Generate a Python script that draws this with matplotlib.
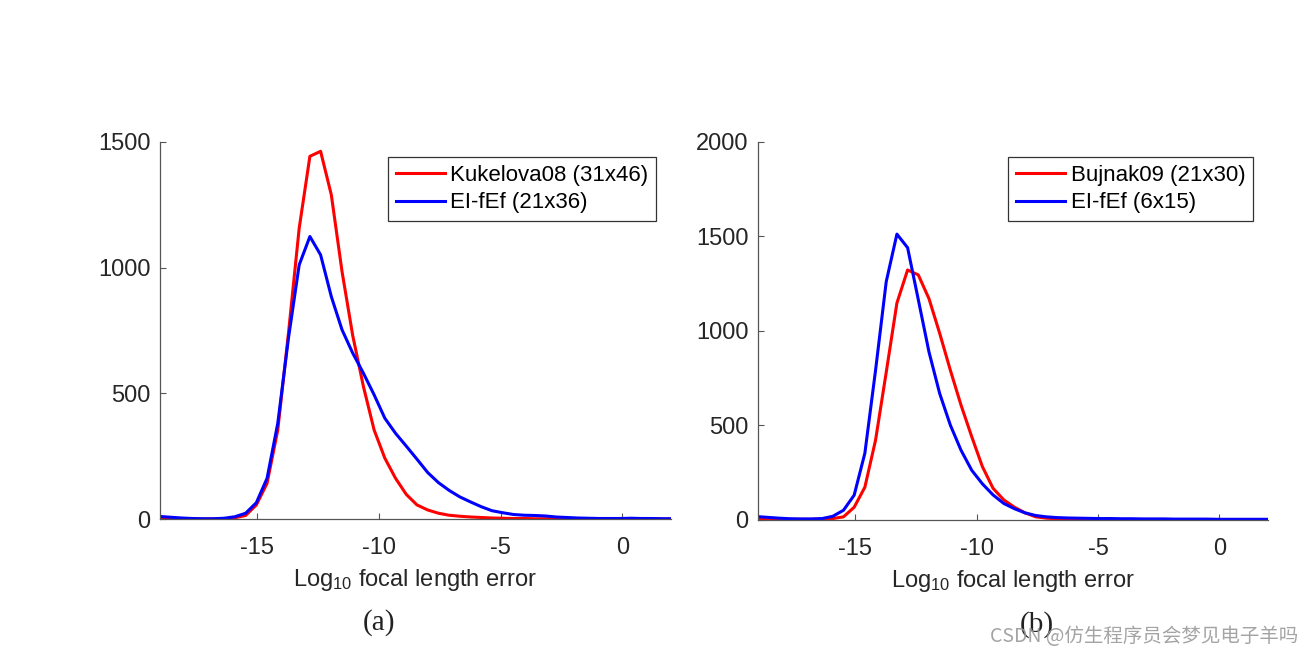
import numpy as np
import matplotlib
matplotlib.use('Agg')
import matplotlib.pyplot as plt

plt.rcParams['font.family'] = ['Liberation Sans', 'DejaVu Sans']
plt.rcParams['mathtext.fontset'] = 'custom'
plt.rcParams['mathtext.rm'] = 'Liberation Sans'
plt.rcParams['mathtext.it'] = 'Liberation Sans'
plt.rcParams['axes.unicode_minus'] = False

# bin centres (log10 focal length error)
log_err = [-19.00, -18.56, -18.12, -17.68, -17.24, -16.80, -16.36, -15.92, -15.48, -15.04,
           -14.60, -14.16, -13.72, -13.28, -12.84, -12.40, -11.96, -11.52, -11.08, -10.64,
           -10.20, -9.76, -9.32, -8.88, -8.44, -8.00, -7.56, -7.12, -6.68, -6.24,
           -5.80, -5.36, -4.92, -4.48, -4.04, -3.60, -3.16, -2.72, -2.28, -1.84,
           -1.40, -0.96, -0.52, -0.08, 0.36, 0.80, 1.24, 1.68, 2.12]

# (a)
kukelova08 = [5, 3, 1, 0, 0, 0, 1, 5, 14, 56,
              142, 354, 740, 1157, 1443, 1463, 1290, 985, 730, 527,
              354, 242, 162, 98, 56, 36, 23, 15, 11, 8,
              6, 4, 3, 2, 2, 1, 1, 1, 0, 0,
              0, 0, 0, 0, 0, 0, 0, 0, 0]
elfef_a = [10, 7, 4, 2, 1, 1, 3, 9, 23, 65,
           162, 381, 720, 1011, 1124, 1051, 885, 753, 660, 580,
           494, 401, 341, 290, 238, 185, 145, 114, 88, 68,
           49, 33, 25, 18, 15, 14, 12, 8, 6, 4,
           3, 2, 2, 2, 3, 2, 2, 1, 1]

# (b)
bujnak09 = [5, 4, 2, 1, 1, 1, 2, 5, 14, 65,
            171, 420, 780, 1147, 1322, 1296, 1170, 987, 791, 606,
            439, 280, 165, 104, 65, 35, 14, 7, 4, 3,
            2, 1, 1, 1, 0, 0, 0, 0, 0, 0,
            0, 0, 0, 0, 0, 0, 0, 0, 0]
elfef_b = [15, 11, 7, 4, 3, 3, 5, 17, 49, 129,
           351, 790, 1260, 1512, 1440, 1165, 888, 668, 500, 367,
           261, 189, 130, 85, 57, 35, 21, 14, 10, 8,
           7, 6, 5, 5, 4, 4, 3, 3, 3, 2,
           2, 2, 2, 1, 1, 1, 1, 1, 1]

panels = [
    ('Kukelova08 (31x46)', kukelova08, 'EI-fEf (21x36)', elfef_a, [0, 500, 1000, 1500], 1500),
    ('Bujnak09 (21x30)', bujnak09, 'EI-fEf (6x15)', elfef_b, [0, 500, 1000, 1500, 2000], 2000),
]

W, H = 1314, 655
fig = plt.figure(figsize=(W / 100, H / 100), dpi=100)
boxes = [(160, 671, 142, 519), (758, 1268, 142, 519.5)]

for (lab1, y1, lab2, y2, yt, ymax), (l, r, t, b) in zip(panels, boxes):
    ax = fig.add_axes([l / W, (H - b) / H, (r - l) / W, (b - t) / H])
    ax.plot(log_err, y1, color='#ff0000', lw=2.2, label=lab1)
    ax.plot(log_err, y2, color='#0000ff', lw=2.2, label=lab2)
    ax.set_xlim(-19, 2)
    ax.set_ylim(0, ymax)
    ax.set_xticks([-15, -10, -5, 0])
    ax.set_yticks(yt)
    for s in ['top', 'right']:
        ax.spines[s].set_visible(False)
    for s in ['left', 'bottom']:
        ax.spines[s].set_color('#555555')
        ax.spines[s].set_linewidth(0.9)
    ax.tick_params(direction='in', length=4, width=0.8, color='#555555',
                   labelsize=17, labelcolor='#262626')
    ax.tick_params(axis='x', pad=13)
    ax.tick_params(axis='y', pad=7)
    ax.set_xlabel('Log$_{\\mathregular{10}}$ focal length error', fontsize=17,
                  color='#262626', labelpad=6)
    leg = ax.legend(loc='upper right', bbox_to_anchor=(1 - 15 / (r - l), 1 - 15 / (b - t)),
                    borderaxespad=0, fancybox=False, framealpha=1, edgecolor='#333333',
                    fontsize=16, handlelength=2.2, handletextpad=0.25,
                    labelspacing=0.3, borderpad=0.35)
    leg.get_frame().set_linewidth(0.9)

fig.text(379 / W, 1 - 623 / H, '(a)', family='Liberation Serif', fontsize=21,
         ha='center', va='center', color='#222222')
fig.text(1037 / W, 1 - 625 / H, '(b)', family='Liberation Serif', fontsize=21,
         ha='center', va='center', color='#222222')
fig.text(1298 / W, 1 - 636 / H, 'CSDN @仿生程序员会梦见电子羊吗',
         family=['Noto Sans CJK SC', 'DejaVu Sans'], fontsize=14,
         ha='right', va='center', color='#9a9a9a', alpha=0.9)

fig.savefig('out.png', dpi=100)
